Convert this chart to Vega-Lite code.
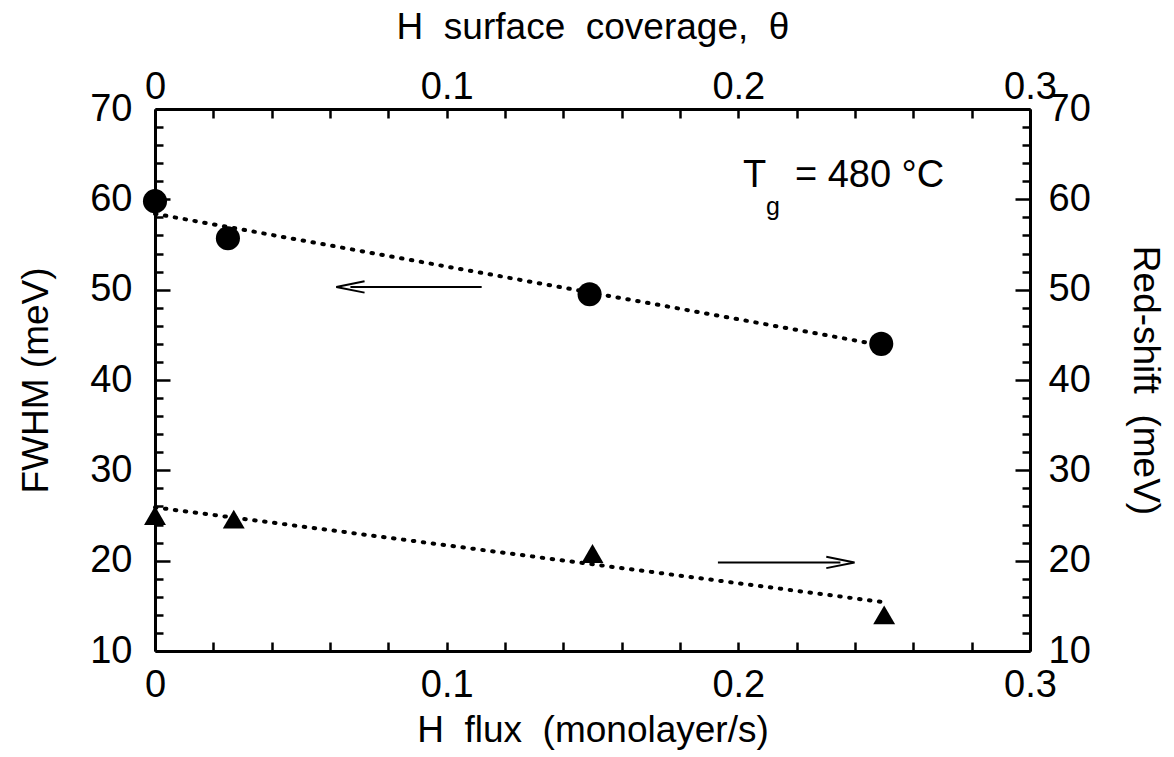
{
  "$schema": "https://vega.github.io/schema/vega-lite/v6.json",
  "autosize": "none",
  "width": 875,
  "height": 542,
  "padding": {"left": 155, "top": 109, "right": 144, "bottom": 106},
  "background": "white",
  "config": {
    "view": {"stroke": null},
    "font": "Liberation Sans",
    "axis": {
      "domainColor": "black", "domainWidth": 3, "tickColor": "black", "tickWidth": 2.5,
      "labelFont": "Liberation Sans", "labelFontSize": 38, "labelColor": "black",
      "titleFont": "Liberation Sans", "titleFontSize": 37, "titleFontWeight": "normal", "titleColor": "black",
      "grid": false, "labelFlush": false, "labelOverlap": false
    }
  },
  "datasets": {
    "fwhm": [
      {"flux": 0.0, "val": 59.8},
      {"flux": 0.025, "val": 55.7},
      {"flux": 0.149, "val": 49.5},
      {"flux": 0.249, "val": 44.0}
    ],
    "shift": [
      {"flux": 0.0, "val": 25.0},
      {"flux": 0.027, "val": 24.6},
      {"flux": 0.15, "val": 20.8},
      {"flux": 0.25, "val": 14.0}
    ],
    "fits": [
      {"series": "fwhm", "flux": 0.0, "val": 58.4},
      {"series": "fwhm", "flux": 0.25, "val": 43.8},
      {"series": "shift", "flux": 0.0, "val": 25.9},
      {"series": "shift", "flux": 0.25, "val": 15.4}
    ],
    "arrows": [
      {"dir": "left", "x1": 0.067, "x2": 0.112, "val": 50.3},
      {"dir": "right", "x1": 0.193, "x2": 0.235, "val": 19.8}
    ],
    "notes": [
      {"flux": 0.2016, "val": 62.6, "label": "T", "part": "main"},
      {"flux": 0.2095, "val": 59.1, "label": "g", "part": "sub"},
      {"flux": 0.2194, "val": 62.6, "label": "= 480 °C", "part": "rest"}
    ]
  },
  "resolve": {"axis": {"x": "independent", "y": "independent"}},
  "layer": [
    {
      "data": {"name": "fits"},
      "mark": {"type": "line", "color": "black", "strokeWidth": 4, "strokeDash": [1.5, 8.5], "strokeCap": "round"},
      "encoding": {
        "x": {"field": "flux", "type": "quantitative", "scale": {"domain": [0, 0.3], "nice": false, "zero": false},
          "axis": {"orient": "bottom", "title": "H\u00a0\u00a0flux\u00a0\u00a0(monolayer/s)", "titlePadding": 8,
            "values": [0,0.02,0.04,0.06,0.08,0.1,0.12,0.14,0.16,0.18,0.2,0.22,0.24,0.26,0.28,0.3],
            "labelExpr": "abs(datum.value*10 - round(datum.value*10)) < 0.001 ? format(datum.value, '~g') : ''",
            "tickSize": -9, "labelPadding": 24}},
        "y": {"field": "val", "type": "quantitative", "scale": {"domain": [10, 70], "nice": false, "zero": false},
          "axis": {"orient": "left", "title": "FWHM (meV)", "titlePadding": 34,
            "values": [10,12,14,16,18,20,22,24,26,28,30,32,34,36,38,40,42,44,46,48,50,52,54,56,58,60,62,64,66,68,70],
            "labelExpr": "datum.value % 10 == 0 ? datum.label : ''",
            "tickSize": {"condition": {"test": "datum.value % 10 == 0", "value": -15}, "value": -8},
            "labelPadding": 38}},
        "detail": {"field": "series"}
      }
    },
    {
      "data": {"name": "fwhm"},
      "mark": {"type": "point", "shape": "circle", "filled": true, "color": "black", "size": 580, "opacity": 1, "clip": false},
      "encoding": {
        "x": {"field": "flux", "type": "quantitative",
          "axis": {"orient": "top", "title": "H\u00a0\u00a0surface\u00a0\u00a0coverage,\u00a0\u00a0θ", "titlePadding": 22,
            "values": [0,0.02,0.04,0.06,0.08,0.1,0.12,0.14,0.16,0.18,0.2,0.22,0.24,0.26,0.28,0.3],
            "labelExpr": "abs(datum.value*10 - round(datum.value*10)) < 0.001 ? format(datum.value, '~g') : ''",
            "tickSize": -9, "labelPadding": 12}},
        "y": {"field": "val", "type": "quantitative",
          "axis": {"orient": "right", "title": "Red-shift\u00a0\u00a0(meV)", "titleAngle": 90, "titlePadding": 35,
            "values": [10,12,14,16,18,20,22,24,26,28,30,32,34,36,38,40,42,44,46,48,50,52,54,56,58,60,62,64,66,68,70],
            "labelExpr": "datum.value % 10 == 0 ? datum.label : ''",
            "tickSize": {"condition": {"test": "datum.value % 10 == 0", "value": -15}, "value": -8},
            "labelPadding": 33}}
      }
    },
    {
      "data": {"name": "shift"},
      "mark": {"type": "point", "shape": "triangle-up", "filled": true, "color": "black", "size": 480, "opacity": 1, "clip": false},
      "encoding": {
        "x": {"field": "flux", "type": "quantitative", "axis": null},
        "y": {"field": "val", "type": "quantitative", "axis": null}
      }
    },
    {
      "data": {"name": "arrows"},
      "mark": {"type": "rule", "color": "black", "strokeWidth": 2},
      "encoding": {
        "x": {"field": "x1", "type": "quantitative", "axis": null},
        "x2": {"field": "x2"},
        "y": {"field": "val", "type": "quantitative", "axis": null}
      }
    },
    {
      "data": {"name": "arrows"},
      "transform": [{"filter": "datum.dir == 'left'"}],
      "mark": {"type": "point", "shape": "M 1 -0.4 L -1 0 L 1 0.4", "filled": false, "color": "black", "strokeWidth": 2, "size": 800, "opacity": 1},
      "encoding": {
        "x": {"field": "x1", "type": "quantitative", "axis": null},
        "y": {"field": "val", "type": "quantitative", "axis": null}
      }
    },
    {
      "data": {"name": "arrows"},
      "transform": [{"filter": "datum.dir == 'right'"}],
      "mark": {"type": "point", "shape": "M -1 -0.4 L 1 0 L -1 0.4", "filled": false, "color": "black", "strokeWidth": 2, "size": 800, "opacity": 1},
      "encoding": {
        "x": {"field": "x2", "type": "quantitative", "axis": null},
        "y": {"field": "val", "type": "quantitative", "axis": null}
      }
    },
    {
      "data": {"name": "notes"},
      "transform": [{"filter": "datum.part != 'sub'"}],
      "mark": {"type": "text", "color": "black", "align": "left", "baseline": "middle", "font": "Liberation Sans", "fontSize": 38},
      "encoding": {
        "x": {"field": "flux", "type": "quantitative", "axis": null},
        "y": {"field": "val", "type": "quantitative", "axis": null},
        "text": {"field": "label"}
      }
    },
    {
      "data": {"name": "notes"},
      "transform": [{"filter": "datum.part == 'sub'"}],
      "mark": {"type": "text", "color": "black", "align": "left", "baseline": "middle", "font": "Liberation Sans", "fontSize": 25},
      "encoding": {
        "x": {"field": "flux", "type": "quantitative", "axis": null},
        "y": {"field": "val", "type": "quantitative", "axis": null},
        "text": {"field": "label"}
      }
    }
  ]
}
